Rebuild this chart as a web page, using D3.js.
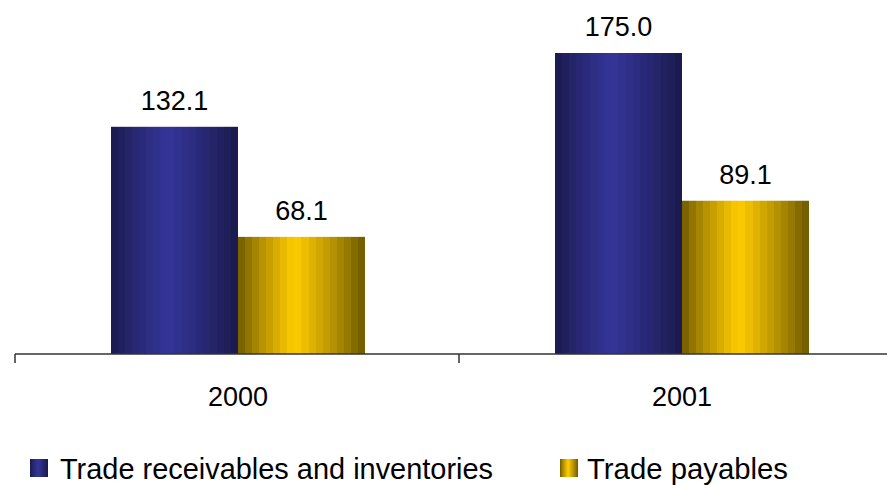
<!DOCTYPE html>
<html>
<head>
<meta charset="utf-8">
<script src="https://cdn.jsdelivr.net/npm/d3@7"></script>
<style>
  html, body { margin: 0; padding: 0; background: #fff; }
  svg { display: block; }
  text { font-family: "Liberation Sans", Arial, sans-serif; fill: #000; }
</style>
</head>
<body>
<svg id="chart" width="887" height="485"></svg>
<script>
// Data
const years = ["2000", "2001"];
const seriesNames = ["Trade receivables and inventories", "Trade payables"];
const receivables = [132.1, 175.0];
const payables = [68.1, 89.1];

const W = 887, H = 485;
const svg = d3.select("#chart");

// Plot frame
const baseY = 354;
const left = 15, right = 903;

const x0 = d3.scaleBand().domain(years).range([left, right]).paddingInner(0).paddingOuter(0);
const x1 = d3.scaleBand().domain([0, 1]).range([96, 350]);
const y = d3.scaleLinear().domain([0, 175]).range([baseY, 53]);

// Stepped horizontal gradients: dark edges, bright band left of centre
const defs = svg.append("defs");
function shadeGradient(id, dark, bright) {
  const g = defs.append("linearGradient").attr("id", id)
    .attr("x1", "0%").attr("x2", "100%").attr("y1", "0%").attr("y2", "0%");
  const steps = 18, peak = 0.45;
  const mix = d3.interpolateRgb(dark, bright);
  for (let i = 0; i < steps; i++) {
    const a = i / steps, b = (i + 1) / steps;
    const m = (a + b) / 2;
    const t = m <= peak ? Math.pow(m / peak, 0.8) : Math.pow((1 - m) / (1 - peak), 0.9);
    const c = mix(t);
    g.append("stop").attr("offset", a).attr("stop-color", c);
    g.append("stop").attr("offset", b).attr("stop-color", c);
  }
}
shadeGradient("gBlue", "#19194a", "#35359a");
shadeGradient("gGold", "#6b5700", "#ffcc00");
const fills = ["url(#gBlue)", "url(#gGold)"];

const rows = years.map((yr, i) => ({ year: yr, vals: [receivables[i], payables[i]] }));

const groups = svg.selectAll("g.year").data(rows).join("g")
  .attr("class", "year")
  .attr("transform", d => `translate(${x0(d.year)},0)`);

groups.selectAll("rect").data(d => d.vals.map((v, k) => ({ v, k }))).join("rect")
  .attr("x", d => x1(d.k))
  .attr("width", x1.bandwidth())
  .attr("y", d => y(d.v))
  .attr("height", d => baseY - y(d.v))
  .attr("fill", d => fills[d.k]);

groups.selectAll("text.val").data(d => d.vals.map((v, k) => ({ v, k }))).join("text")
  .attr("class", "val")
  .attr("x", d => x1(d.k) + x1.bandwidth() / 2)
  .attr("y", d => y(d.v) - 17)
  .attr("text-anchor", "middle")
  .style("font-size", "27px")
  .text(d => d3.format(".1f")(d.v));

// Category axis
const axis = svg.append("g").attr("transform", `translate(0,${baseY})`);
axis.append("line").attr("x1", left).attr("x2", W).attr("y1", 0).attr("y2", 0)
  .attr("stroke", "#333").attr("stroke-width", 1.5);
axis.selectAll("line.tick").data([left, x0("2001")]).join("line")
  .attr("class", "tick")
  .attr("x1", d => d).attr("x2", d => d)
  .attr("y1", 0).attr("y2", 9)
  .attr("stroke", "#333").attr("stroke-width", 1.5);
axis.selectAll("text").data(years).join("text")
  .attr("x", d => x0(d) + x1(0) + x1.step())
  .attr("y", 52)
  .attr("text-anchor", "middle")
  .style("font-size", "27px")
  .text(d => d);

// Legend
const legendItems = [
  { name: seriesNames[0], fill: fills[0], sx: 30, tx: 60, tw: 433 },
  { name: seriesNames[1], fill: fills[1], sx: 560, tx: 587, tw: 201 }
];
const lg = svg.append("g");
lg.selectAll("rect").data(legendItems).join("rect")
  .attr("x", d => d.sx).attr("y", 459).attr("width", 18).attr("height", 18)
  .attr("fill", d => d.fill);
lg.selectAll("text").data(legendItems).join("text")
  .attr("x", d => d.tx).attr("y", 478.5)
  .attr("textLength", d => d.tw).attr("lengthAdjust", "spacingAndGlyphs")
  .style("font-size", "29px")
  .text(d => d.name);
</script>
</body>
</html>
